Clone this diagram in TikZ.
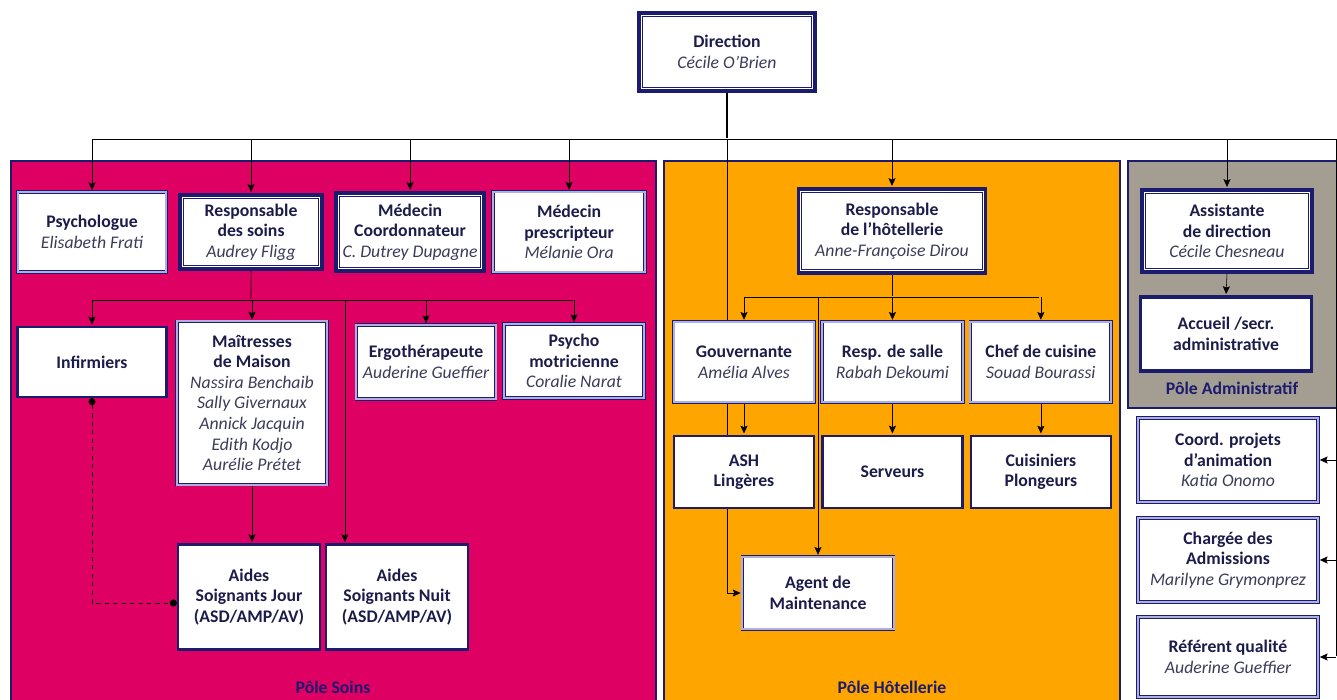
\documentclass[tikz,border=0pt]{standalone}
\usepackage{fontspec}
\setmainfont{Carlito}
\usepackage{tikz}
\usetikzlibrary{arrows,arrows.meta,positioning,backgrounds}
\definecolor{navy}{RGB}{28,28,110}
\definecolor{ink}{RGB}{28,28,75}
\definecolor{namegray}{RGB}{60,60,90}
\definecolor{soinspink}{RGB}{222,0,98}
\definecolor{hotelorange}{RGB}{255,165,0}
\definecolor{admingray}{RGB}{163,157,146}
\definecolor{lav}{RGB}{175,175,225}
\newcommand{\who}[1]{{\normalfont\itshape\color{namegray}#1}}

\begin{document}
\begin{tikzpicture}[x=0.025cm,y=-0.025cm,>={Stealth[length=5.5pt,width=5pt,inset=1pt]},thick,shorten >=1pt,node distance=3.975cm,
  box/.style={fill=white,align=center,text=ink,font=\fontsize{12.6}{14.6}\selectfont\bfseries,inner sep=2pt},
  chef/.style={box,draw=navy,line width=2.4pt,
    path picture={\draw[navy,line width=0.6pt] ([shift={(2.3pt,-2.3pt)}]path picture bounding box.north west) rectangle ([shift={(-2.3pt,2.3pt)}]path picture bounding box.south east);}},
  staff/.style={box,draw=navy,line width=0.6pt,double=lav,double distance=1.4pt},
  team/.style={box,draw=navy,line width=1.6pt},
  pole/.style={draw=navy,line width=1.2pt},
  polename/.style={font=\fontsize{12.6}{14}\selectfont\bfseries,text=navy}]
\useasboundingbox (0,0) rectangle (1337,699);

\node[chef,minimum width=4.4cm,minimum height=1.95cm] (dir) at (727,52) {Direction\\\who{Cécile O’Brien}};

% pole soins
\node[staff,minimum width=3.72cm,minimum height=2cm] (psy) at (92,232) {Psychologue\\\who{Elisabeth Frati}};
\node[chef,minimum width=3.55cm,minimum height=1.85cm] (soins) [right of=psy] {Responsable\\des soins\\\who{Audrey Fligg}};
\node[chef,minimum width=3.7cm,minimum height=1.95cm] (coord) [right of=soins] {Médecin\\Coordonnateur\\\who{C. Dutrey Dupagne}};
\node[staff,minimum width=3.8cm,minimum height=2.02cm] (presc) [right of=coord] {Médecin\\prescripteur\\\who{Mélanie Ora}};
\node[team,minimum width=3.72cm,minimum height=1.75cm] (inf) at (92,362) {Infirmiers};
\node[staff,minimum width=3.75cm,minimum height=4.08cm] (maison) at (252,403) {Maîtresses\\de Maison\\\who{Nassira Benchaib}\\\who{Sally Givernaux}\\\who{Annick Jacquin}\\\who{Edith Kodjo}\\\who{Aurélie Prétet}};
\node[staff,minimum width=3.48cm,minimum height=1.85cm] (ergo) at (426,362) {Ergothérapeute\\\who{Auderine Gueffier}};
\node[staff,minimum width=3.5cm,minimum height=1.85cm] (psymot) at (574,361) {Psycho\\motricienne\\\who{Coralie Narat}};
\node[team,minimum width=3.55cm,minimum height=2.62cm] (jour) at (249,597) {Aides\\Soignants Jour\\(ASD/AMP/AV)};
\node[team,minimum width=3.55cm,minimum height=2.62cm] (nuit) [right of=jour,node distance=3.7cm] {Aides\\Soignants Nuit\\(ASD/AMP/AV)};
\node[polename] (lsoins) at (333,687) {Pôle Soins};

% pole hotellerie
\node[chef,minimum width=4.68cm,minimum height=2.1cm] (hotel) at (892,231) {Responsable\\de l’hôtellerie\\\who{Anne-Françoise Dirou}};
\node[staff,minimum width=3.52cm,minimum height=2.02cm] (gouv) at (744,362) {Gouvernante\\\who{Amélia Alves}};
\node[staff,minimum width=3.52cm,minimum height=2.02cm] (salle) [right of=gouv,node distance=3.71cm] {Resp. de salle\\\who{Rabah Dekoumi}};
\node[staff,minimum width=3.52cm,minimum height=2.02cm] (cuis) [right of=salle,node distance=3.71cm] {Chef de cuisine\\\who{Souad Bourassi}};
\node[team,minimum width=3.5cm,minimum height=1.8cm] (ash) at (744,472) {ASH\\Lingères};
\node[team,minimum width=3.5cm,minimum height=1.8cm] (serv) [right of=ash,node distance=3.71cm] {Serveurs};
\node[team,minimum width=3.5cm,minimum height=1.8cm] (plong) [right of=serv,node distance=3.71cm] {Cuisiniers\\Plongeurs};
\node[staff,minimum width=3.78cm,minimum height=1.82cm] (agent) at (818,593) {Agent de\\Maintenance};
\node[polename] (lhotel) at (892,687) {Pôle Hôtellerie};

% pole administratif
\node[chef,minimum width=4.25cm,minimum height=2.05cm] (assist) at (1227,231) {Assistante\\de direction\\\who{Cécile Chesneau}};
\node[team,line width=2.2pt,minimum width=4.28cm,minimum height=1.85cm] (accueil) at (1226,334) {Accueil /secr.\\administrative};
\node[polename] (ladmin) at (1232,388) {Pôle Administratif};
\node[staff,minimum width=4.5cm,minimum height=2.1cm] (anim) at (1228,460) {Coord. projets\\d’animation\\\who{Katia Onomo}};
\node[staff,minimum width=4.5cm,minimum height=2.1cm] (admis) at (1228,560) {Chargée des\\Admissions\\\who{Marilyne Grymonprez}};
\node[staff,minimum width=4.5cm,minimum height=2cm] (qual) at (1228,657) {Référent qualité\\\who{Auderine Gueffier}};

\coordinate (bus) at (727,139);
\coordinate (rt) at (1336,139);
\coordinate (sbus) at (251,300);
\coordinate (hbus) at (892,297);

\begin{pgfonlayer}{background}
\fill[white] (0,0) rectangle (1337,699);
\filldraw[pole,fill=soinspink] (11,161) rectangle (656,730);
\filldraw[pole,fill=hotelorange] (664,161) rectangle (1120,730);
\filldraw[pole,fill=admingray] (1128,161) rectangle (1360,408);

\draw[line width=1.4pt] (dir) -- (bus);
\draw (psy.north |- bus) -- (rt) -- (rt |- qual.east);
\foreach \n in {psy,soins,coord,presc,hotel,assist}
  \draw[->] (\n.north |- bus) -- (\n.north);
\draw[->] (bus) |- (agent.west);

\draw (soins.south) -- (sbus);
\draw (inf.north |- sbus) -- (psymot.north |- sbus);
\foreach \n in {inf,maison,ergo,psymot}
  \draw[->] (\n.north |- sbus) -- (\n.north);
\draw[->] ([xshift=0.5cm]nuit.north west |- sbus) -- ([xshift=0.5cm]nuit.north west);
\draw[->] (maison.south) -- (maison.south |- jour.north);
\draw[dashed,{Circle[length=5pt]}-{Circle[length=5pt]},shorten >=0pt] (inf.south) |- ([yshift=-0.15cm]jour.west);

\draw (hotel.south) -- (hbus);
\draw (gouv.north |- hbus) -- (cuis.north |- hbus);
\foreach \n in {gouv,salle,cuis,agent}
  \draw[->] (\n.north |- hbus) -- (\n.north);
\foreach \a/\b in {gouv/ash,salle/serv,cuis/plong,assist/accueil}
  \draw[->] (\a.south) -- (\b.north);
\foreach \n in {anim,admis,qual}
  \draw[->] (rt |- \n.east) -- (\n.east);
\end{pgfonlayer}
\end{tikzpicture}
\end{document}
